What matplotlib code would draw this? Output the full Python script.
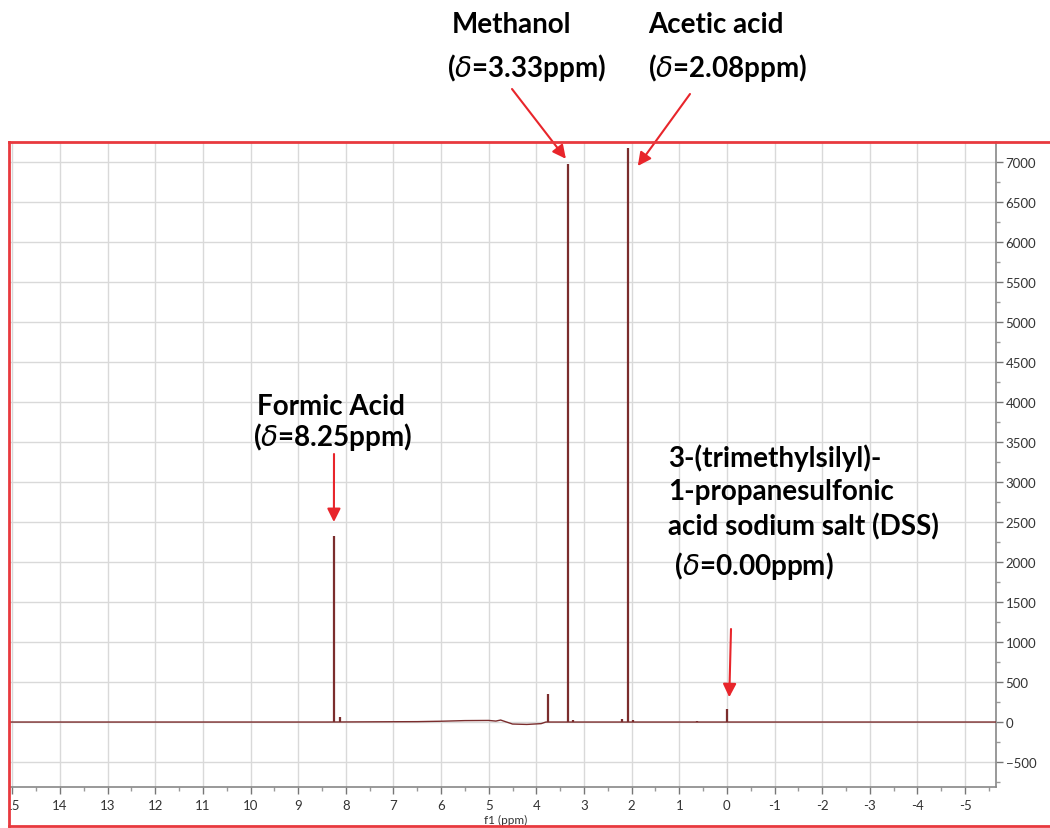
import matplotlib
matplotlib.use("Agg")
import matplotlib.pyplot as plt
from matplotlib.lines import Line2D
from matplotlib.transforms import Bbox, TransformedBbox
from matplotlib.ticker import MultipleLocator

# ---- data ----
baseline_ppm = [15.05, 9.0, 8.4, 6.5, 6.0, 5.5, 5.0, 4.85, 4.75, 4.65, 4.5, 4.2, 3.9, 3.8, 3.5, 2.5, 1.0, -5.65]
baseline_int = [0, 0, 0, 5, 10, 18, 20, 12, 25, 5, -25, -30, -20, 0, 0, 0, 0, 0]

peak_ppm = [8.25, 8.13, 3.75, 3.33, 3.22, 2.08, 2.20, 1.97, 0.00, 0.62]
peak_int = [2320, 60, 350, 6970, 30, 7170, 40, 30, 160, 15]

x_ticks = [15, 14, 13, 12, 11, 10, 9, 8, 7, 6, 5, 4, 3, 2, 1, 0, -1, -2, -3, -4, -5]
y_ticks = [-500, 0, 500, 1000, 1500, 2000, 2500, 3000, 3500, 4000, 4500, 5000,
           5500, 6000, 6500, 7000]

labels = {
    "methanol": ["Methanol", r"($\delta$=3.33ppm)"],
    "acetic": ["Acetic acid", r"($\delta$=2.08ppm)"],
    "formic": ["Formic Acid", r"($\delta$=8.25ppm)"],
    "dss": ["3-(trimethylsilyl)-", "1-propanesulfonic", "acid sodium salt (DSS)", r" ($\delta$=0.00ppm)"],
}

W, H = 1050, 829
fig = plt.figure(figsize=(W / 100, H / 100), dpi=100)
plt.rcParams['font.family'] = ['Lato', 'DejaVu Sans']

def fx(px):
    return px / W

def fy(py):
    return 1 - py / H

ax = fig.add_axes([fx(10), fy(788), fx(996) - fx(10), fy(143) - fy(788)])
ax.set_xlim(15.05, -5.65)
ax.set_ylim(-812, 7250)

line_color = "#7b2d2d"
ax.plot(baseline_ppm, baseline_int, color=line_color, lw=1.0, zorder=3)
ax.vlines(peak_ppm, 0, peak_int, color=line_color, lw=1.6, zorder=3)

ax.set_xticks(x_ticks)
ax.set_xticklabels([str(t) for t in x_ticks])
ax.xaxis.set_minor_locator(MultipleLocator(0.5))
ax.yaxis.tick_right()
ax.set_yticks(y_ticks)
ax.yaxis.set_minor_locator(MultipleLocator(250))
ax.grid(True, which="major", color="#d9d9d9", lw=1.0, zorder=0)
ax.tick_params(axis="both", which="major", length=5, width=1, color="#777777",
               labelcolor="#333333", labelsize=9.5)
ax.tick_params(axis="both", which="minor", length=3, width=1, color="#999999")
ax.tick_params(axis="y", pad=2)
ax.tick_params(axis="x", pad=4)
for side in ["left", "top"]:
    ax.spines[side].set_visible(False)
for side in ["right", "bottom"]:
    ax.spines[side].set_color("#888888")
    ax.spines[side].set_linewidth(1.2)
ax.set_xlabel("f1 (ppm)", fontsize=8.5, color="#333333")
ax.xaxis.set_label_coords(0.503, -0.042)

# clip tick labels at red border
clip = TransformedBbox(Bbox([[fx(10), 0], [1, 1]]), fig.transFigure)
for lab in ax.get_xticklabels():
    lab.set_clip_box(clip)
    lab.set_clip_on(True)

# red frame
red = "#e8393e"
fig.add_artist(Line2D([fx(9), 1], [fy(143), fy(143)], color=red, lw=2, transform=fig.transFigure))
fig.add_artist(Line2D([fx(9), fx(9)], [fy(143), fy(827)], color=red, lw=2, transform=fig.transFigure))
fig.add_artist(Line2D([fx(9), 1], [fy(827), fy(827)], color=red, lw=2, transform=fig.transFigure))

tkw = dict(fontsize=20, fontweight="bold", color="black", transform=fig.transFigure, va="center")
fig.text(fx(512), fy(25), labels["methanol"][0], ha="center", **tkw)
fig.text(fx(526), fy(68), labels["methanol"][1], ha="center", **tkw)
fig.text(fx(716), fy(25), labels["acetic"][0], ha="center", **tkw)
fig.text(fx(727), fy(68), labels["acetic"][1], ha="center", **tkw)
fig.text(fx(331), fy(407), labels["formic"][0], ha="center", **tkw)
fig.text(fx(332), fy(437), labels["formic"][1], ha="center", **tkw)
for txt, py in zip(labels["dss"], [458, 492, 527, 566]):
    fig.text(fx(668), fy(py), txt, ha="left", **tkw)

arrow_red = "#e8252b"
akw = dict(arrowstyle="-|>", color=arrow_red, lw=1.5, mutation_scale=20, shrinkA=0, shrinkB=0)
ax.annotate("", xy=(3.38, 7040), xycoords="data", xytext=(512, H - 90),
            textcoords="figure pixels", arrowprops=akw, annotation_clip=False)
ax.annotate("", xy=(1.87, 6950), xycoords="data", xytext=(690, H - 95),
            textcoords="figure pixels", arrowprops=akw, annotation_clip=False)
ax.annotate("", xy=(8.25, 2500), xycoords="data", xytext=(334, H - 455),
            textcoords="figure pixels", arrowprops=akw, annotation_clip=False)
ax.annotate("", xy=(-0.05, 310), xycoords="data", xytext=(731, H - 630),
            textcoords="figure pixels", arrowprops=akw, annotation_clip=False)

fig.savefig("out.png", dpi=100)
